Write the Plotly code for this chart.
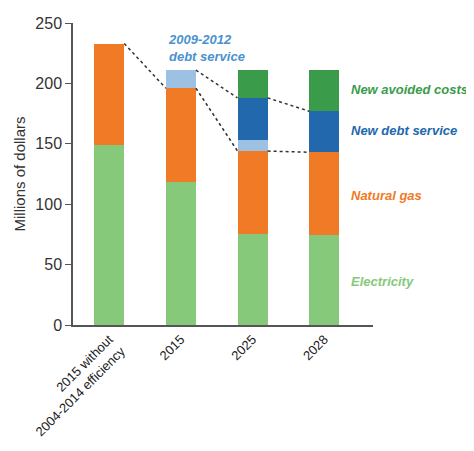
import plotly.graph_objects as go

categories = ["2015 without<br>2004-2014 efficiency", "2015", "2025", "2028"]
electricity = [149, 118, 75, 74.5]
natural_gas = [84, 78, 69, 68.5]
old_debt = [0, 15, 9.5, 0]
new_debt = [0, 0, 34.5, 34]
new_avoided = [0, 0, 23, 34]

series = [
    ("Electricity", electricity, "#86c97b"),
    ("Natural gas", natural_gas, "#f07a25"),
    ("2009-2012 debt service", old_debt, "#9cc1e3"),
    ("New debt service", new_debt, "#2268ad"),
    ("New avoided costs", new_avoided, "#3a9c4a"),
]

xs = list(range(len(categories)))
bw = 0.42

fig = go.Figure()
for name, vals, color in series:
    fig.add_trace(go.Bar(x=xs, y=vals, name=name, marker=dict(color=color, line=dict(width=0)),
                         width=bw, showlegend=False))

def tops(i, upto):
    return sum(s[1][i] for s in series[:upto])

# dotted connector lines
conns = [
    (0, tops(0, 2), 1, tops(1, 2)),
    (1, tops(1, 3), 2, tops(2, 4)),
    (1, tops(1, 2), 2, tops(2, 2)),
    (2, tops(2, 4), 3, tops(3, 4)),
    (2, tops(2, 2), 3, tops(3, 2)),
]
for a, ya, b, yb in conns:
    fig.add_shape(type="line", xref="x", yref="y", x0=a + bw / 2, y0=ya, x1=b - bw / 2, y1=yb,
                  line=dict(color="#333333", width=1.5, dash="dot"))

lab_font = dict(family="Liberation Sans, Arial", size=13)
fig.add_annotation(x=0.79, y=229, xref="x", yref="y", xanchor="left", yanchor="middle", align="left",
                   text="<b><i>2009-2012<br>debt service</i></b>", showarrow=False,
                   font=dict(lab_font, color="#4a92cf"))
labels = [
    ("New avoided costs", 195, "#3a9c4a"),
    ("New debt service", 161, "#2268ad"),
    ("Natural gas", 107, "#f07a25"),
    ("Electricity", 36, "#86c97b"),
]
for t, yv, c in labels:
    fig.add_annotation(x=3.34, y=yv, xref="x", yref="y", xanchor="left", yanchor="middle",
                       text=f"<b><i>{t}</i></b>", showarrow=False, font=dict(lab_font, color=c))

fig.update_layout(
    barmode="stack",
    width=466, height=443,
    margin=dict(l=65, r=101, t=15, b=126, autoexpand=False),
    plot_bgcolor="white", paper_bgcolor="white",
    font=dict(family="Liberation Sans, Arial", color="#333333"),
)
fig.update_xaxes(range=[-0.505, 3.68], tickvals=xs, ticktext=categories, tickangle=-45,
                 showline=True, linecolor="#555555", linewidth=1.5, ticks="", showgrid=False,
                 zeroline=False, automargin=False, tickfont=dict(size=13, color="#222222"))
fig.update_yaxes(range=[0, 250], tickvals=[0, 50, 100, 150, 200, 250], showline=True,
                 linecolor="#555555", linewidth=1.5, ticks="outside", ticklen=6, tickcolor="#555555",
                 showgrid=False, zeroline=False, automargin=False,
                 tickfont=dict(size=16, color="#333333"),
                 title=dict(text="Millions of dollars", font=dict(size=15, color="#333333"), standoff=6))

fig.write_html("out.html")
